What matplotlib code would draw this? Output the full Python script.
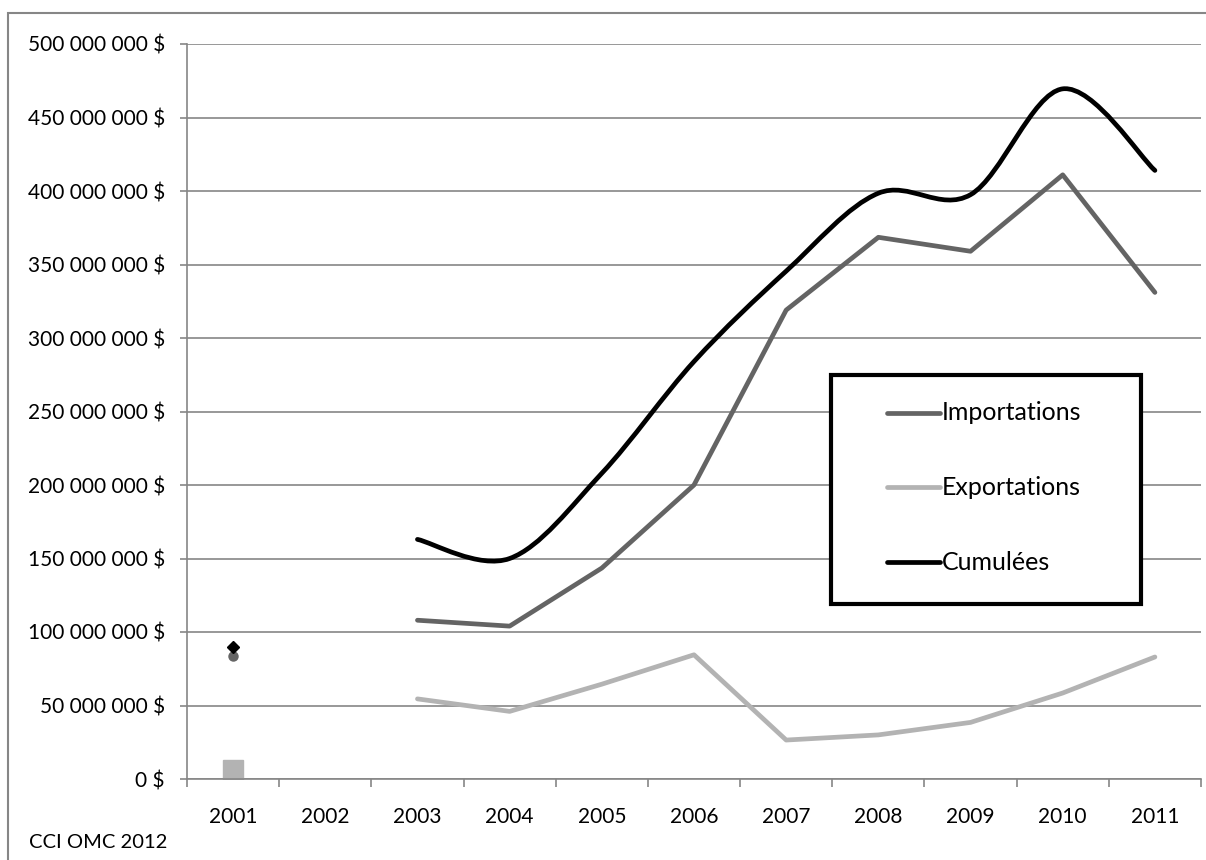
import numpy as np
import matplotlib
matplotlib.use("Agg")
import matplotlib.pyplot as plt
from matplotlib.path import Path
from matplotlib.patches import PathPatch, Rectangle
from matplotlib.lines import Line2D

plt.rcParams["font.family"] = ["Lato", "DejaVu Sans"]

# ---------------------------------------------------------------------------
# Data
# ---------------------------------------------------------------------------
YEARS = ["2001", "2002", "2003", "2004", "2005", "2006",
         "2007", "2008", "2009", "2010", "2011"]
IMPORTATIONS = [84e6, np.nan, 108e6, 104e6, 143.5e6, 200e6,
                319e6, 368.5e6, 359e6, 411e6, 331e6]
EXPORTATIONS = [6e6, np.nan, 54.5e6, 46e6, 64.5e6, 84.5e6,
                26.5e6, 30e6, 38.5e6, 58.5e6, 83e6]
CUMULEES = [90e6, np.nan, 163e6, 150e6, 208e6, 284e6,
            345.5e6, 398.5e6, 397.5e6, 469.5e6, 414e6]
Y_TICKS = [0, 50e6, 100e6, 150e6, 200e6, 250e6, 300e6, 350e6, 400e6, 450e6, 500e6]

C_IMP = "#646464"
C_EXP = "#b3b3b3"
C_CUM = "#000000"
GRID = "#868686"
LW = 3.4
TICK_FS = 15
LEG_FS = 18
NOTE_FS = 14.5


def fmt_dollars(v):
    return f"{int(v):,}".replace(",", " ") + " $"


def smooth_path(xs, ys):
    """Excel-like smoothed line: Catmull-Rom converted to cubic Bezier."""
    p = np.column_stack([xs, ys])
    n = len(p)
    verts = [p[0]]
    codes = [Path.MOVETO]
    for i in range(n - 1):
        p0 = p[i - 1] if i > 0 else p[i]
        p1, p2 = p[i], p[i + 1]
        p3 = p[i + 2] if i + 2 < n else p[i + 1]
        c1 = p1 + (p2 - p0) / 6.0
        c2 = p2 - (p3 - p1) / 6.0
        verts += [c1, c2, p2]
        codes += [Path.CURVE4] * 3
    return Path(verts, codes)


fig = plt.figure(figsize=(12.06, 8.6), dpi=100, facecolor="white")
ax = fig.add_axes([187 / 1206, 1 - 779 / 860, (1201 - 187) / 1206, (779 - 44) / 860])

x = np.arange(1, len(YEARS) + 1)
imp = np.array(IMPORTATIONS)
exp_ = np.array(EXPORTATIONS)
cum = np.array(CUMULEES)

ax.plot(x, imp, color=C_IMP, lw=LW, solid_capstyle="round", zorder=3)
ax.plot(x, exp_, color=C_EXP, lw=LW, solid_capstyle="round", zorder=3)

seg = ~np.isnan(cum) & (x >= 3)
ax.add_patch(PathPatch(smooth_path(x[seg], cum[seg]), fill=False, edgecolor=C_CUM,
                       lw=LW, capstyle="round", zorder=4))

# isolated 2001 values shown as markers
ax.plot(x[0], exp_[0], marker="s", ms=14.5, color=C_EXP, mec=C_EXP, ls="none", zorder=3)
ax.plot(x[0], imp[0], marker="o", ms=6.5, color=C_IMP, mec=C_IMP, ls="none", zorder=3)
ax.plot(x[0], cum[0], marker="D", ms=6.5, color=C_CUM, mec=C_CUM, ls="none", zorder=4)

ax.set_xlim(0.5, len(YEARS) + 0.5)
ax.set_ylim(0, 500e6)
ax.set_yticks(Y_TICKS)
ax.set_yticklabels([fmt_dollars(v) for v in Y_TICKS])
ax.set_xticks(x)
ax.set_xticklabels(YEARS)
ax.set_xticks(np.arange(0.5, len(YEARS) + 1), minor=True)
ax.tick_params(axis="x", which="major", length=0, pad=20, labelsize=TICK_FS)
ax.tick_params(axis="x", which="minor", length=6, width=1.2, color=GRID, direction="out")
ax.tick_params(axis="y", length=5, width=1.2, color=GRID, pad=11, labelsize=TICK_FS)

ax.yaxis.grid(True, color=GRID, lw=1.2)
ax.set_axisbelow(True)
for s in ("top", "right"):
    ax.spines[s].set_visible(False)
for s in ("left", "bottom"):
    ax.spines[s].set_color(GRID)
    ax.spines[s].set_linewidth(1.2)
ax.spines["bottom"].set_zorder(5)

# legend box (drawn in figure pixels)
W, H = 1206, 860
def fx(px): return px / W
def fy(py): return 1 - py / H

fig.add_artist(Rectangle((fx(831), fy(604)), fx(1141) - fx(831), fy(375) - fy(604),
                         transform=fig.transFigure, facecolor="white",
                         edgecolor="black", lw=3, zorder=10))
for label, col, yy in [("Importations", C_IMP, 413), ("Exportations", C_EXP, 487),
                       ("Cumulées", C_CUM, 562)]:
    fig.add_artist(Line2D([fx(887), fx(940)], [fy(yy), fy(yy)], transform=fig.transFigure,
                          color=col, lw=LW, solid_capstyle="round", zorder=11))
    fig.text(fx(942), fy(yy), label, ha="left", va="center", fontsize=LEG_FS, zorder=12)

# outer chart border
fig.add_artist(Rectangle((fx(8), -0.05), 1.2, fy(13) + 0.05, transform=fig.transFigure,
                         fill=False, edgecolor=GRID, lw=1.5, zorder=0))

fig.text(fx(29), fy(843), "CCI OMC 2012", ha="left", va="center", fontsize=NOTE_FS)

fig.savefig("out.png", dpi=100, facecolor="white")
